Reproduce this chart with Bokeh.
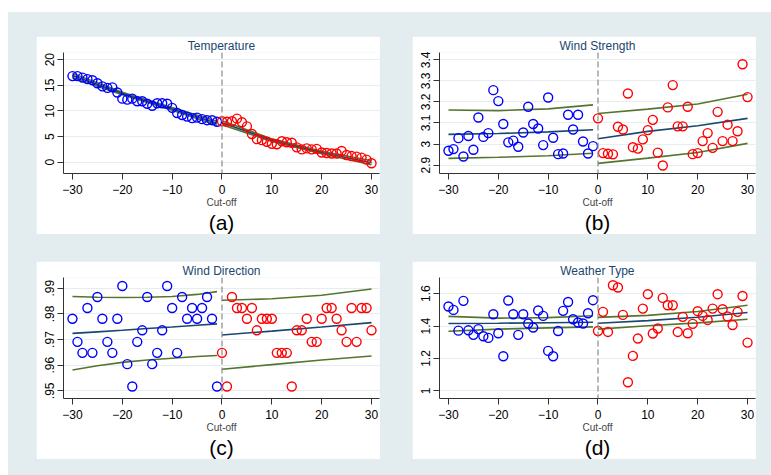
from bokeh.plotting import figure
from bokeh.models import FixedTicker, Range1d, Span, GridBox, Title
from bokeh.embed import file_html
from bokeh.resources import INLINE

# ---------------- data ----------------
x_left = list(range(-30, 0))
x_right = list(range(0, 31))
xticks = [-30, -20, -10, 0, 10, 20, 30]

# (a) Temperature
temp_left = [16.8, 16.8, 16.5, 16.2, 16.0, 15.4, 14.8, 14.5, 14.6, 13.6, 12.4, 12.2, 12.4, 11.9, 11.9,
             11.4, 11.0, 11.5, 11.5, 11.4, 10.6, 9.6, 9.2, 8.9, 8.6, 8.7, 8.4, 8.2, 8.2, 7.9]
temp_right = [8.0, 7.9, 8.0, 8.5, 7.8, 7.0, 5.5, 4.5, 4.3, 4.0, 3.6, 3.5, 4.1, 3.9, 3.8, 2.9,
              2.5, 2.7, 2.5, 2.6, 1.9, 1.8, 1.7, 1.7, 2.2, 1.4, 1.2, 1.1, 0.9, 0.5, -0.2]
temp_fit_xl = [-30, -20, -10, -1]
temp_fit_l = [16.9, 13.4, 10.4, 7.6]
temp_hi_l = [17.3, 13.65, 10.65, 8.0]
temp_lo_l = [16.5, 13.15, 10.15, 7.2]
temp_fit_xr = [0, 10, 20, 30]
temp_fit_r = [7.7, 4.3, 1.9, -0.1]
temp_hi_r = [8.1, 4.55, 2.15, 0.3]
temp_lo_r = [7.3, 4.05, 1.65, -0.5]

# (b) Wind Strength
ws_left = [2.968, 2.976, 3.028, 2.941, 3.038, 2.973, 3.126, 3.034, 3.052, 3.256, 3.204, 3.095, 3.008, 3.016,
           2.987, 3.055, 3.177, 3.095, 3.074, 2.995, 3.221, 3.030, 2.952, 2.955, 3.139, 3.069, 3.139, 3.012,
           2.955, 2.990]
ws_right = [3.122, 2.957, 2.954, 2.951, 3.082, 3.069, 3.240, 2.985, 2.978, 3.022, 3.066, 3.115, 2.959, 2.898,
            3.174, 3.280, 3.084, 3.084, 3.177, 2.952, 2.957, 3.014, 3.052, 2.982, 3.153, 3.014, 3.092, 3.014,
            3.061, 3.379, 3.223]
ws_fit_xl = [-30, -20, -10, -1]
ws_fit_l = [3.046, 3.050, 3.058, 3.068]
ws_hi_l = [3.162, 3.159, 3.167, 3.186]
ws_lo_l = [2.932, 2.937, 2.944, 2.956]
ws_fit_xr = [0, 10, 20, 30]
ws_fit_r = [3.025, 3.060, 3.087, 3.122]
ws_hi_r = [3.145, 3.166, 3.190, 3.237]
ws_lo_r = [2.908, 2.933, 2.960, 3.003]

# (c) Wind Direction
wd_left = [0.9781, 0.9691, 0.9648, 0.9823, 0.9648, 0.9866, 0.9781, 0.9691, 0.9648, 0.9781, 0.9909, 0.9604,
           0.9517, 0.9691, 0.9736, 0.9866, 0.9604, 0.9648, 0.9736, 0.9909, 0.9823, 0.9648, 0.9866, 0.9781,
           0.9823, 0.9781, 0.9823, 0.9866, 0.9781, 0.9517]
wd_right = [0.9648, 0.9517, 0.9866, 0.9823, 0.9823, 0.9781, 0.9823, 0.9736, 0.9781, 0.9781, 0.9781, 0.9648,
            0.9648, 0.9648, 0.9517, 0.9736, 0.9736, 0.9781, 0.9691, 0.9691, 0.9781, 0.9823, 0.9823, 0.9781,
            0.9736, 0.9691, 0.9823, 0.9691, 0.9823, 0.9823, 0.9736]
wd_fit_xl = [-30, -25, -20, -15, -10, -5, -1]
wd_fit_l = [0.9724, 0.9730, 0.9736, 0.9743, 0.9749, 0.9756, 0.9761]
wd_hi_l = [0.9868, 0.9865, 0.9864, 0.9865, 0.9868, 0.9876, 0.9887]
wd_lo_l = [0.9581, 0.9598, 0.9611, 0.9620, 0.9627, 0.9634, 0.9638]
wd_fit_xr = [0, 10, 20, 30]
wd_fit_r = [0.9718, 0.9733, 0.9749, 0.9766]
wd_hi_r = [0.9853, 0.9859, 0.9873, 0.9897]
wd_lo_r = [0.9584, 0.9602, 0.9620, 0.9636]

# (d) Weather Type
wt_left = [1.521, 1.500, 1.372, 1.556, 1.374, 1.346, 1.381, 1.337, 1.327, 1.473, 1.356, 1.214, 1.558, 1.473,
           1.346, 1.473, 1.416, 1.391, 1.496, 1.463, 1.247, 1.214, 1.370, 1.494, 1.549, 1.442, 1.422, 1.416,
           1.479, 1.560]
wt_right = [1.370, 1.488, 1.364, 1.652, 1.638, 1.469, 1.053, 1.216, 1.323, 1.508, 1.597, 1.354, 1.385, 1.574,
            1.529, 1.529, 1.364, 1.457, 1.356, 1.414, 1.492, 1.463, 1.438, 1.508, 1.597, 1.504, 1.459, 1.407,
            1.488, 1.586, 1.298]
wt_fit_xl = [-30, -20, -10, -1]
wt_fit_l = [1.416, 1.418, 1.421, 1.424]
wt_hi_l = [1.460, 1.449, 1.452, 1.464]
wt_lo_l = [1.368, 1.381, 1.389, 1.395]
wt_fit_xr = [0, 10, 20, 30]
wt_fit_r = [1.418, 1.434, 1.455, 1.484]
wt_hi_r = [1.454, 1.466, 1.490, 1.529]
wt_lo_r = [1.381, 1.402, 1.420, 1.442]

# ---------------- style ----------------
FONT = "Liberation Sans"
BG = "#e3edef"
GRID = "#e4eef0"
NAVY = "#1a476f"
GREEN = "#55752f"
AXC = "#333333"


def panel(title, letter, yl, yr, fxl, fl, hl, ll, fxr, fr, hr, lr, yrange, yticks, ylabels):
    p = figure(width=344, height=198, x_range=Range1d(-31.8, 31.6), y_range=Range1d(*yrange),
               output_backend="svg", toolbar_location=None,
               min_border_left=27, min_border_right=1, min_border_top=16, min_border_bottom=61,
               background_fill_color="white", border_fill_color="white", outline_line_color=None)
    p.title.text = title
    p.title.align = "center"
    p.title.text_font = FONT
    p.title.text_font_size = "12px"
    p.title.text_font_style = "normal"
    p.title.text_color = NAVY
    p.title.standoff = 0
    p.title.offset = 0

    p.xaxis.ticker = FixedTicker(ticks=xticks)
    p.yaxis.ticker = FixedTicker(ticks=yticks)
    p.yaxis.major_label_overrides = {t: s for t, s in zip(yticks, ylabels)}
    p.yaxis.major_label_orientation = "vertical"
    p.xaxis.axis_label = "Cut-off"
    p.xaxis.axis_label_text_font = FONT
    p.xaxis.axis_label_text_font_size = "10px"
    p.xaxis.axis_label_text_font_style = "normal"
    p.xaxis.axis_label_standoff = 0
    for ax in (p.xaxis, p.yaxis):
        ax.major_label_text_font = FONT
        ax.major_label_text_font_size = "12px"
        ax.major_label_text_color = "black"
        ax.axis_line_color = AXC
        ax.major_tick_line_color = AXC
        ax.major_tick_out = 6
        ax.major_tick_in = 0
        ax.minor_tick_line_color = None
    p.xaxis.major_label_standoff = 5
    p.yaxis.major_label_standoff = 3
    p.xgrid.visible = False
    p.ygrid.ticker = FixedTicker(ticks=yticks)
    p.ygrid.grid_line_color = GRID
    p.ygrid.grid_line_width = 1.2

    p.add_layout(Title(text=letter, align="center", text_font=FONT, text_font_size="21px",
                       text_font_style="normal", text_color="black", standoff=-4), "below")

    p.add_layout(Span(location=0, dimension="height", line_color="#8a8a8a", line_dash="6 3", line_width=1.2))

    for xs, ys in ((fxl, hl), (fxl, ll), (fxr, hr), (fxr, lr)):
        p.line(xs, ys, line_color=GREEN, line_width=1.6)
    p.line(fxl, fl, line_color=NAVY, line_width=1.6)
    p.line(fxr, fr, line_color=NAVY, line_width=1.6)

    p.scatter(x_left, yl, marker="circle", size=9, fill_color=None, line_color="blue", line_width=1.4)
    p.scatter(x_right, yr, marker="circle", size=9, fill_color=None, line_color="red", line_width=1.4)
    return p


pa = panel("Temperature", "(a)", temp_left, temp_right, temp_fit_xl, temp_fit_l, temp_hi_l, temp_lo_l,
           temp_fit_xr, temp_fit_r, temp_hi_r, temp_lo_r, (-2.2, 21.4),
           [0, 5, 10, 15, 20], ["0", "5", "10", "15", "20"])
pb = panel("Wind Strength", "(b)", ws_left, ws_right, ws_fit_xl, ws_fit_l, ws_hi_l, ws_lo_l,
           ws_fit_xr, ws_fit_r, ws_hi_r, ws_lo_r, (2.86, 3.435),
           [2.9, 3.0, 3.1, 3.2, 3.3, 3.4], ["2.9", "3", "3.1", "3.2", "3.3", "3.4"])
pc = panel("Wind Direction", "(c)", wd_left, wd_right, wd_fit_xl, wd_fit_l, wd_hi_l, wd_lo_l,
           wd_fit_xr, wd_fit_r, wd_hi_r, wd_lo_r, (0.9470, 0.9942),
           [0.95, 0.96, 0.97, 0.98, 0.99], [".95", ".96", ".97", ".98", ".99"])
pd_ = panel("Weather Type", "(d)", wt_left, wt_right, wt_fit_xl, wt_fit_l, wt_hi_l, wt_lo_l,
            wt_fit_xr, wt_fit_r, wt_hi_r, wt_lo_r, (0.953, 1.70),
            [1.0, 1.2, 1.4, 1.6], ["1", "1.2", "1.4", "1.6"])

grid = GridBox(children=[(pa, 0, 0), (pb, 0, 1), (pc, 1, 0), (pd_, 1, 1)], spacing=(27, 32),
               styles={"background-color": BG, "padding": "24px 15px 16px 28px"},
               margin=(12, 0, 0, 8))

with open("out.html", "w") as f:
    f.write(file_html(grid, INLINE))
